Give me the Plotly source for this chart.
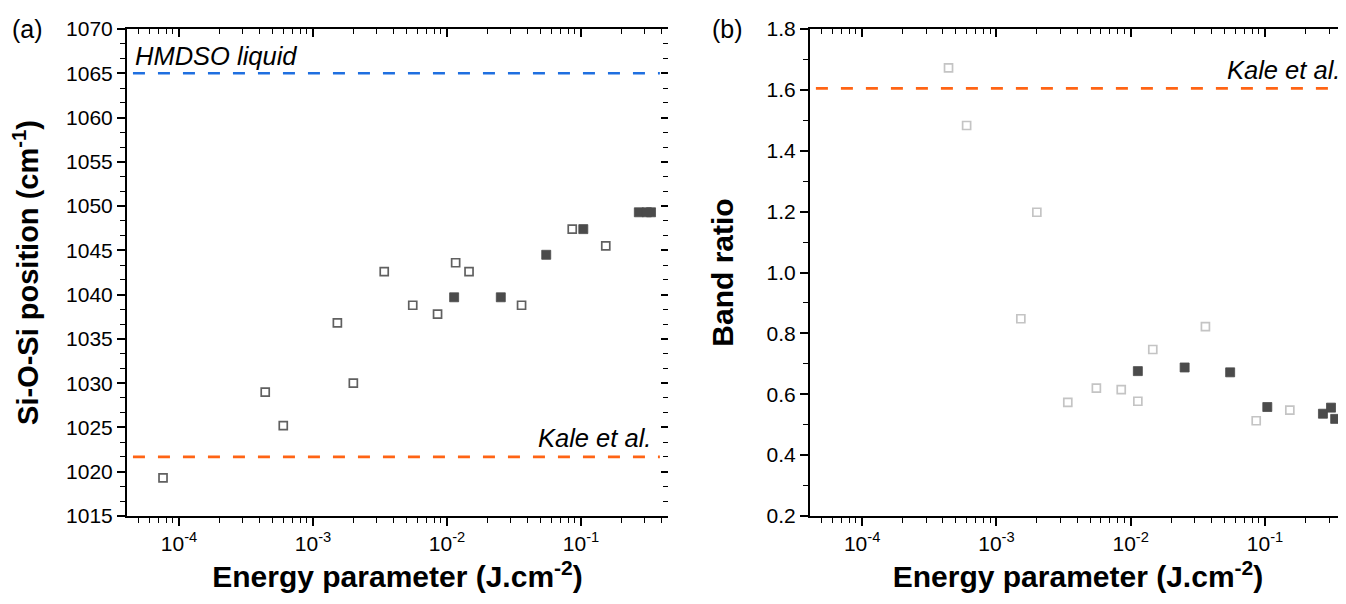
import plotly.graph_objects as go

# ---------------- data ----------------
# Panel (a): Si-O-Si position vs energy parameter
a_open_x = [7.6e-5, 4.4e-4, 6.0e-4, 1.52e-3, 2.0e-3, 3.4e-3, 5.55e-3, 8.5e-3,
            1.16e-2, 1.46e-2, 3.6e-2, 8.6e-2, 0.153]
a_open_y = [1019.3, 1029.0, 1025.2, 1036.8, 1030.0, 1042.6, 1038.8, 1037.8,
            1043.6, 1042.6, 1038.8, 1047.4, 1045.5]
a_fill_x = [1.13e-2, 2.52e-2, 5.5e-2, 0.104, 0.27, 0.31, 0.333]
a_fill_y = [1039.7, 1039.7, 1044.5, 1047.4, 1049.3, 1049.3, 1049.3]

# Panel (b): band ratio vs energy parameter
b_open_x = [4.4e-4, 6.0e-4, 1.52e-3, 2.0e-3, 3.4e-3, 5.55e-3, 8.5e-3,
            1.13e-2, 1.46e-2, 3.6e-2, 8.6e-2, 0.153]
b_open_y = [1.672, 1.483, 0.848, 1.198, 0.573, 0.620, 0.615,
            0.577, 0.747, 0.822, 0.513, 0.548]
b_fill_x = [1.13e-2, 2.52e-2, 5.5e-2, 0.104, 0.27, 0.31, 0.333]
b_fill_y = [0.676, 0.688, 0.672, 0.558, 0.536, 0.556, 0.519]

# reference lines
hmdso_liquid_a = 1065.0
kale_a = 1021.67
kale_b = 1.605

# axis tick labels
x_tick_vals = [1e-4, 1e-3, 1e-2, 1e-1]
x_tick_text = ["10<sup>-4</sup>", "10<sup>-3</sup>", "10<sup>-2</sup>", "10<sup>-1</sup>"]
x_minor_vals = [k * 10.0 ** e for e in range(-5, 0) for k in range(2, 10)]

# ---------------- style ----------------
FONT = "Arial, Liberation Sans, sans-serif"
OPEN_A = "#606060"
OPEN_B = "#c4c4c4"
FILL = "#4b4b4b"
BLUE = "#1f6fe0"
ORANGE = "#ff6414"

fig = go.Figure()

# panel (a)
fig.add_trace(go.Scatter(x=a_open_x, y=a_open_y, mode="markers", xaxis="x", yaxis="y",
                         marker=dict(symbol="square", size=8, color="white",
                                     line=dict(color=OPEN_A, width=1.7)),
                         showlegend=False))
fig.add_trace(go.Scatter(x=a_fill_x, y=a_fill_y, mode="markers", xaxis="x", yaxis="y",
                         marker=dict(symbol="square", size=9, color=FILL,
                                     line=dict(color=FILL, width=0.8)),
                         showlegend=False))
# panel (b)
fig.add_trace(go.Scatter(x=b_open_x, y=b_open_y, mode="markers", xaxis="x2", yaxis="y2",
                         marker=dict(symbol="square", size=8, color="white",
                                     line=dict(color=OPEN_B, width=1.7)),
                         showlegend=False))
fig.add_trace(go.Scatter(x=b_fill_x, y=b_fill_y, mode="markers", xaxis="x2", yaxis="y2",
                         marker=dict(symbol="square", size=9, color=FILL,
                                     line=dict(color=FILL, width=0.8)),
                         showlegend=False))

# dummy traces so that the overlay (tick-only) axes get drawn
for xa, ya in [("x3", "y"), ("x", "y3"), ("x4", "y2"), ("x2", "y4")]:
    fig.add_trace(go.Scatter(x=[None], y=[None], xaxis=xa, yaxis=ya, mode="markers",
                             showlegend=False, hoverinfo="skip"))

XR_A = [-4.388, -0.351]
XR_B = [-4.388, -0.397]
YR_A = [1015, 1070]
YR_B = [0.2, 1.8]

dom_a = [0.0, 0.4438]
dom_b = [0.5603, 1.0]

tickfont = dict(family=FONT, size=21, color="black")
titlefont = dict(family=FONT, size=30, color="black")


def xmain(domain, rng, anchor):
    return dict(type="log", range=rng, domain=domain, anchor=anchor, automargin=False,
                showline=True, linecolor="black", linewidth=2, mirror=True,
                ticks="outside", ticklen=8, tickwidth=1.6, tickcolor="black",
                tickmode="array", tickvals=x_tick_vals, ticktext=x_tick_text,
                minor=dict(tickmode="array", tickvals=x_minor_vals, ticks="outside",
                           ticklen=5, tickwidth=1.4, tickcolor="black"),
                tickfont=tickfont, showgrid=False, zeroline=False,
                title=dict(text="<b>Energy parameter (J.cm<sup>-2</sup>)</b>",
                           font=titlefont, standoff=12))


def xover(over, rng, anchor):
    return dict(type="log", range=rng, overlaying=over, side="top", anchor=anchor,
                automargin=False,
                showline=False, ticks="inside", ticklen=8, tickwidth=1.6, tickcolor="black",
                tickmode="array", tickvals=x_tick_vals, showticklabels=False,
                minor=dict(tickmode="array", tickvals=x_minor_vals, ticks="inside",
                           ticklen=5, tickwidth=1.4, tickcolor="black"),
                showgrid=False, zeroline=False)


# The page body has an 8 px margin, so the figure is 8 px smaller than the window
fig.update_layout(
    width=1338, height=596,
    margin=dict(l=119, r=0, t=21, b=88),
    plot_bgcolor="white", paper_bgcolor="white",
    font=dict(family=FONT, color="black"),
    xaxis=xmain(dom_a, XR_A, "y"),
    xaxis2=xmain(dom_b, XR_B, "y2"),
    xaxis3=xover("x", XR_A, "y"),
    xaxis4=xover("x2", XR_B, "y2"),
    yaxis=dict(range=YR_A, anchor="x", automargin=False,
               showline=True, linecolor="black", linewidth=2,
               ticks="outside", ticklen=8, tickwidth=1.6, tickcolor="black",
               dtick=5, tick0=1015,
               minor=dict(dtick=5 / 3, tick0=1015, ticks="outside", ticklen=5,
                          tickwidth=1.4, tickcolor="black"),
               tickfont=tickfont, showgrid=False, zeroline=False,
               title=dict(text="<b>Si-O-Si position (cm<sup>-1</sup>)</b>",
                          font=dict(family=FONT, size=29, color="black"), standoff=22)),
    yaxis3=dict(range=YR_A, overlaying="y", side="right", anchor="x", automargin=False,
                showline=False, ticks="inside", ticklen=7, tickwidth=1.6, tickcolor="black",
                dtick=5, tick0=1015, showticklabels=False,
                minor=dict(dtick=5 / 3, tick0=1015, ticks="inside", ticklen=5,
                           tickwidth=1.4, tickcolor="black"),
                showgrid=False, zeroline=False),
    yaxis2=dict(range=YR_B, anchor="x2", automargin=False,
                showline=True, linecolor="black", linewidth=2,
                ticks="outside", ticklen=8, tickwidth=1.6, tickcolor="black",
                dtick=0.2, tick0=0.2, tickformat=".1f",
                minor=dict(dtick=0.1, tick0=0.2, ticks="outside", ticklen=5,
                           tickwidth=1.4, tickcolor="black"),
                tickfont=tickfont, showgrid=False, zeroline=False,
                title=dict(text="<b>Band ratio</b>", font=titlefont, standoff=24)),
    yaxis4=dict(range=YR_B, overlaying="y2", side="right", anchor="x2", automargin=False,
                showline=False, ticks="inside", ticklen=5, tickwidth=1.8, tickcolor="black",
                dtick=0.2, tick0=0.2, showticklabels=False,
                showgrid=False, zeroline=False),
)

# dashed reference lines
dash = "12px,13px"
fig.add_shape(type="line", xref="x domain", yref="y", x0=0.011, x1=0.985,
              y0=hmdso_liquid_a, y1=hmdso_liquid_a,
              line=dict(color=BLUE, width=2.7, dash=dash))
fig.add_shape(type="line", xref="x domain", yref="y", x0=0.011, x1=0.985,
              y0=kale_a, y1=kale_a, line=dict(color=ORANGE, width=2.7, dash=dash))
fig.add_shape(type="line", xref="x2 domain", yref="y2", x0=0.011, x1=0.99,
              y0=kale_b, y1=kale_b, line=dict(color=ORANGE, width=2.7, dash=dash))

italic = dict(family=FONT, size=25.5, color="black")
fig.add_annotation(xref="x domain", yref="y", x=0.012, y=1066.9, text="<i>HMDSO liquid</i>",
                   showarrow=False, xanchor="left", yanchor="middle", font=italic)
fig.add_annotation(xref="x domain", yref="y", x=0.972, y=1023.8, text="<i>Kale et al.</i>",
                   showarrow=False, xanchor="right", yanchor="middle", font=italic)
fig.add_annotation(xref="x2 domain", yref="y2", x=0.993, y=1.664, text="<i>Kale et al.</i>",
                   showarrow=False, xanchor="right", yanchor="middle", font=italic)

panel_font = dict(family=FONT, size=25, color="black")
fig.add_annotation(xref="paper", yref="paper", x=-0.082, y=1.0, text="(a)",
                   showarrow=False, xanchor="center", yanchor="middle", font=panel_font)
fig.add_annotation(xref="paper", yref="paper", x=0.493, y=1.0, text="(b)",
                   showarrow=False, xanchor="center", yanchor="middle", font=panel_font)

fig.write_html("out.html")
